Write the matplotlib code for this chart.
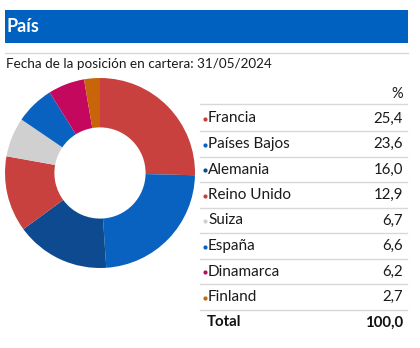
import matplotlib
matplotlib.use("Agg")
import matplotlib.pyplot as plt

plt.rcParams['font.family'] = ['Lato', 'DejaVu Sans']

countries = ["Francia", "Países Bajos", "Alemania", "Reino Unido", "Suiza", "España", "Dinamarca", "Finland"]
weights = [25.4, 23.6, 16.0, 12.9, 6.7, 6.6, 6.2, 2.7]
labels = ["25,4", "23,6", "16,0", "12,9", "6,7", "6,6", "6,2", "2,7"]
colors = ["#C8413F", "#0A62C0", "#0D4A8F", "#C8413F", "#D0D0D0", "#0A62C0", "#C4085E", "#C8640A"]
title = "País"
subtitle = "Fecha de la posición en cartera: 31/05/2024"
total_label = "100,0"

W, H = 420, 348
fig = plt.figure(figsize=(W / 100, H / 100), dpi=100)

# background layer in pixel coordinates
bg = fig.add_axes([0, 0, 1, 1])
bg.set_xlim(0, W)
bg.set_ylim(H, 0)
bg.axis("off")

# header band
bg.add_patch(plt.Rectangle((5, 10), 403, 33, color="#0061C1", lw=0))
bg.text(7, 27, title, color="white", fontsize=13, fontweight="bold", va="center", ha="left")
bg.plot([5, 408], [53, 53], color="#D8D8D8", lw=1)
bg.text(6, 64, subtitle, color="#1a1a1a", fontsize=9.7, va="center", ha="left")

# table
x0, x1 = 200, 407
txt = "#1a1a1a"
bg.text(403, 94, "%", fontsize=10.5, ha="right", va="center", color=txt)
bg.plot([x0, x1], [104, 104], color="#D8D8D8", lw=1)
row_h = 25.5
for i, (name, lab, col) in enumerate(zip(countries, labels, colors)):
    y = 118.5 + i * row_h
    bg.plot(205, y + 0.5, marker="o", ms=3, color=col, mec="none")
    bg.text(208, y, name, fontsize=11, ha="left", va="center", color=txt)
    bg.text(403, y, lab, fontsize=10.8, ha="right", va="center", color=txt)
    bg.plot([x0, x1], [y + 12.5, y + 12.5], color="#D8D8D8", lw=1)
ty = 118.5 + len(countries) * row_h
bg.text(207, ty, "Total", fontsize=10.8, fontweight="bold", ha="left", va="center", color="#111111")
bg.text(403, ty, total_label, fontsize=10.8, fontweight="bold", ha="right", va="center", color="#111111")

# donut
cx, cy, r = 100, 173, 95
ax = fig.add_axes([(cx - r) / W, (H - cy - r) / H, 2 * r / W, 2 * r / H])
ax.pie(weights, colors=colors, startangle=90, counterclock=False,
       wedgeprops=dict(width=0.52, linewidth=0))
ax.set_xlim(-1, 1)
ax.set_ylim(-1, 1)
ax.set_aspect("equal")
ax.axis("off")

fig.savefig("out.png", dpi=100)
